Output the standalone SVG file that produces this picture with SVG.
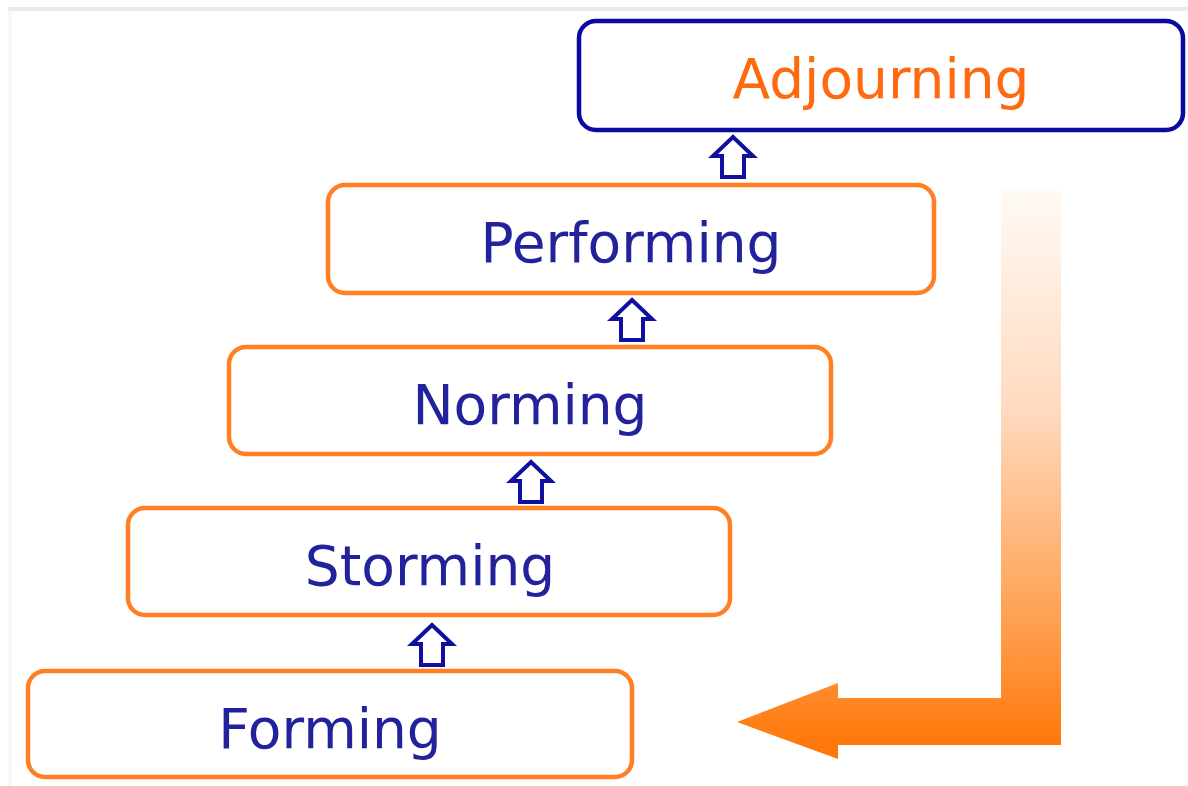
<svg xmlns="http://www.w3.org/2000/svg" width="1188" height="786" viewBox="0 0 1188 786">
<style>
.box{fill:#fff;stroke:#FF7F22;stroke-width:4.5}
.adj{fill:#fff;stroke:#0A0AA0;stroke-width:4.5}
.lbl{font-family:"DejaVu Sans",sans-serif;font-size:55px;text-anchor:middle;fill:#22229C}
.lblo{font-family:"DejaVu Sans",sans-serif;font-size:55px;text-anchor:middle;fill:#FF6A10}
.up{fill:#fff;stroke:#1010A0;stroke-width:4;stroke-linejoin:miter}
</style>
<defs>
<linearGradient id="g" gradientUnits="userSpaceOnUse" x1="0" y1="190" x2="0" y2="745">
<stop offset="0" stop-color="#FFFAF5"/>
<stop offset="0.4" stop-color="#FFDABE"/>
<stop offset="0.8" stop-color="#FF9C4A"/>
<stop offset="1" stop-color="#FF780A"/>
</linearGradient>
<path id="ua" d="M0,0 L20,19 L11,19 L11,40 L-11,40 L-11,19 L-20,19 Z"/>
</defs>
<rect width="1188" height="786" fill="#fff"/>
<rect x="8" y="7" width="1180" height="4" fill="#ECECEC"/>
<rect x="8" y="11" width="4" height="775" fill="#F8F8F8"/>
<g id="adjourning"><rect class="adj" x="579" y="21" width="604" height="109" rx="17"/><text class="lblo" x="881" y="98">Adjourning</text></g>
<g id="performing"><rect class="box" x="328" y="185" width="606" height="108" rx="17"/><text class="lbl" x="631" y="262">Performing</text></g>
<g id="norming"><rect class="box" x="229" y="347" width="602" height="107" rx="17"/><text class="lbl" x="530" y="424">Norming</text></g>
<g id="storming"><rect class="box" x="128" y="508" width="602" height="107" rx="17"/><text class="lbl" x="430" y="585">Storming</text></g>
<g id="forming"><rect class="box" x="28" y="671" width="604" height="106" rx="17"/><text class="lbl" x="330" y="748">Forming</text></g>
<g id="connectors">
<use href="#ua" class="up" transform="translate(733,137)"/>
<use href="#ua" class="up" transform="translate(632,300)"/>
<use href="#ua" class="up" transform="translate(531,462)"/>
<use href="#ua" class="up" transform="translate(432,625)"/>
<path d="M1001,190 L1061,190 L1061,745 L838,745 L838,759 L737,722 L838,683 L838,698 L1001,698 Z" fill="url(#g)"/>
</g>
</svg>
